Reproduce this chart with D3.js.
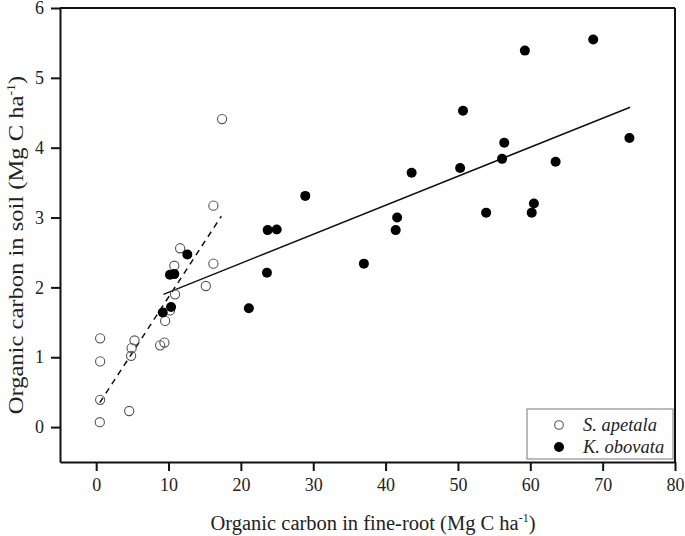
<!DOCTYPE html>
<html><head><meta charset="utf-8">
<script src="https://cdn.jsdelivr.net/npm/d3@7"></script>
<style>body{margin:0;background:#fff}svg{display:block}text{font-family:"Liberation Serif","Times New Roman",serif;fill:#222}</style>
</head><body>
<svg id="c" width="685" height="536"></svg>
<script>
// S. apetala (open circles)
const apetalaX = [0.55,0.55,0.55,0.5,4.56,5.3,4.9,4.83,8.84,9.43,9.53,10.2,10.9,10.8,11.6,15.15,16.2,16.2,17.4];
const apetalaY = [1.27,0.94,0.39,0.07,0.23,1.24,1.13,1.02,1.17,1.21,1.52,1.67,1.9,2.31,2.56,2.02,2.34,3.17,4.41];
// K. obovata (filled circles)
const obovataX = [9.2,10.35,10.2,10.8,12.6,21.1,23.6,23.7,24.95,28.9,37.0,41.4,41.6,43.6,50.3,50.7,53.9,56.1,56.4,59.25,60.2,60.5,63.5,68.7,73.7];
const obovataY = [1.64,1.72,2.18,2.19,2.47,1.70,2.21,2.82,2.83,3.31,2.34,2.82,3.0,3.64,3.71,4.53,3.07,3.84,4.07,5.39,3.07,3.2,3.80,5.55,4.14];
// regression line endpoints
const fitApetalaX = [0.5, 17.3], fitApetalaY = [0.35, 3.02];
const fitObovataX = [9.3, 73.8], fitObovataY = [1.9, 4.58];
const xTicks = [0,10,20,30,40,50,60,70,80];
const yTicks = [0,1,2,3,4,5,6];
const seriesNames = ["S. apetala","K. obovata"];

const SERIF = '"Liberation Serif","Times New Roman",serif';
const svg = d3.select("#c");
const L=60,R=675,T=8,B=462;
const x = d3.scaleLinear().domain([-5,80]).range([L,R]);
const y = d3.scaleLinear().domain([-0.5,6]).range([B,T]);

const gx = svg.append("g").attr("transform",`translate(0,${B})`)
  .call(d3.axisBottom(x).tickValues(xTicks).tickFormat(d3.format("d")).tickSize(9).tickSizeOuter(0).tickPadding(7));
const gy = svg.append("g").attr("transform",`translate(${L},0)`)
  .call(d3.axisLeft(y).tickValues(yTicks).tickFormat(d3.format("d")).tickSize(9).tickSizeOuter(0).tickPadding(7));
[gx,gy].forEach(g=>{
  g.attr("font-family",SERIF).attr("font-size",18);
  g.select(".domain").attr("stroke","#111").attr("stroke-width",2);
  g.selectAll(".tick line").attr("stroke","#111").attr("stroke-width",2);
  g.selectAll(".tick text").attr("fill","#222").style("font-family",SERIF).style("font-size","18px");
});
// top and right frame
svg.append("line").attr("x1",L).attr("x2",R).attr("y1",T).attr("y2",T).attr("stroke","#111").attr("stroke-width",2);
svg.append("line").attr("x1",R).attr("x2",R).attr("y1",T).attr("y2",B).attr("stroke","#111").attr("stroke-width",2);

// fit lines
svg.append("line").attr("x1",x(fitApetalaX[0])).attr("y1",y(fitApetalaY[0])).attr("x2",x(fitApetalaX[1])).attr("y2",y(fitApetalaY[1]))
  .attr("stroke","#111").attr("stroke-width",1.5).attr("stroke-dasharray","6,5");
svg.append("line").attr("x1",x(fitObovataX[0])).attr("y1",y(fitObovataY[0])).attr("x2",x(fitObovataX[1])).attr("y2",y(fitObovataY[1]))
  .attr("stroke","#111").attr("stroke-width",1.5);

// points
svg.append("g").selectAll("circle").data(apetalaX.map((v,i)=>[v,apetalaY[i]])).join("circle")
  .attr("cx",d=>x(d[0])).attr("cy",d=>y(d[1])).attr("r",4.6)
  .attr("fill","none").attr("stroke","#555").attr("stroke-width",1.1);
svg.append("g").selectAll("circle").data(obovataX.map((v,i)=>[v,obovataY[i]])).join("circle")
  .attr("cx",d=>x(d[0])).attr("cy",d=>y(d[1])).attr("r",5)
  .attr("fill","#000");

// legend
const lg = svg.append("g");
lg.append("rect").attr("x",527).attr("y",409).attr("width",146).attr("height",50).attr("fill","#fff").attr("stroke","#777").attr("stroke-width",1);
lg.append("circle").attr("cx",559).attr("cy",425).attr("r",4.3).attr("fill","none").attr("stroke","#555").attr("stroke-width",1.1);
lg.append("circle").attr("cx",559).attr("cy",447).attr("r",5).attr("fill","#000");
lg.append("text").attr("x",583).attr("y",431).attr("font-size",18.5).attr("font-style","italic").text(seriesNames[0]);
lg.append("text").attr("x",583).attr("y",453).attr("font-size",18.5).attr("font-style","italic").text(seriesNames[1]);

// axis titles
const xt = svg.append("text").attr("x",373).attr("y",530).attr("text-anchor","middle").attr("font-size",20.5);
xt.append("tspan").text("Organic carbon in fine-root (Mg C ha");
xt.append("tspan").attr("dy",-8).attr("font-size",12).text("-1");
xt.append("tspan").attr("dy",8).text(")");
const yt = svg.append("text").attr("transform",`translate(23,245) rotate(-90) scale(1.17,1)`).attr("text-anchor","middle").attr("font-size",21);
yt.append("tspan").text("Organic carbon in soil (Mg C ha");
yt.append("tspan").attr("dy",-8).attr("font-size",12).text("-1");
yt.append("tspan").attr("dy",8).text(")");
</script>
</body></html>
